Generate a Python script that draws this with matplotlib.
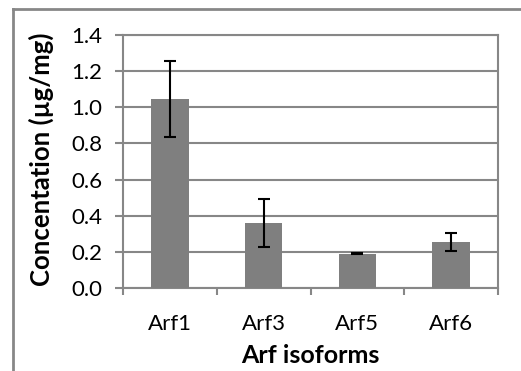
import numpy as np
import matplotlib.pyplot as plt
from matplotlib.lines import Line2D

# DATA
isoforms = ["Arf1", "Arf3", "Arf5", "Arf6"]
conc = [1.045, 0.36, 0.19, 0.255]
err_low = [0.21, 0.135, 0.004, 0.05]
err_high = [0.21, 0.135, 0.004, 0.05]
yticks = [0.0, 0.2, 0.4, 0.6, 0.8, 1.0, 1.2, 1.4]

plt.rcParams['font.family'] = ['Lato', 'DejaVu Sans']

fig = plt.figure(figsize=(5.21, 3.71), dpi=100)
ax = fig.add_axes([123/521, 1 - 288/371, 375/521, 253/371])

grey = "#878787"
x = np.arange(len(isoforms))
ax.bar(x, conc, width=0.4, color="#7f7f7f", zorder=3)
ax.errorbar(x, conc, yerr=[err_low, err_high], fmt="none", ecolor="black",
            elinewidth=1.5, capsize=4, capthick=1.5, zorder=4)

ax.set_xlim(-0.5, len(isoforms) - 0.5)
ax.set_ylim(0, 1.4)
ax.set_yticks(yticks)
ax.set_yticklabels([f"{v:.1f}" for v in yticks], fontsize=16)
ax.yaxis.grid(True, color=grey, linewidth=1.5, zorder=0)

# category labels centred, tick marks at the category boundaries
ax.set_xticks(x)
ax.set_xticklabels(isoforms, fontsize=16)
ax.tick_params(axis="x", length=0, pad=19)
ax.set_xticks(np.arange(-0.5, len(isoforms)), minor=True)
ax.tick_params(axis="x", which="minor", length=5, width=1.5, color=grey)
ax.tick_params(axis="y", length=6, width=1.5, color=grey, pad=9)

for s in ax.spines.values():
    s.set_color(grey)
    s.set_linewidth(1.5)

ax.set_xlabel("Arf isoforms", fontsize=18, fontweight="bold", va="center")
ax.xaxis.set_label_coords(0.5, -0.265)
ax.set_ylabel("Concentation (µg/mg)", fontsize=18.5, fontweight="bold", va="center")
ax.yaxis.set_label_coords(-0.219, 0.51)

# outer chart border (cut off at right and bottom)
fig.add_artist(Line2D([13/521, 1.0], [1 - 9/371, 1 - 9/371], color=grey, linewidth=2))
fig.add_artist(Line2D([13/521, 13/521], [0.0, 1 - 9/371], color=grey, linewidth=2))

fig.savefig("out.png", dpi=100)
